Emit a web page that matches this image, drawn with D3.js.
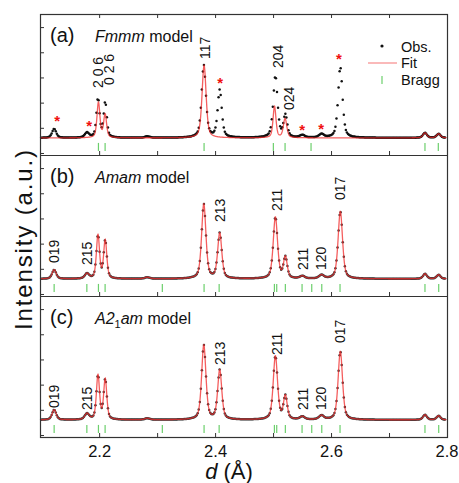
<!DOCTYPE html>
<html><head><meta charset="utf-8">
<script src="https://cdn.jsdelivr.net/npm/d3@7"></script>
<style>
body{margin:0;background:#fff}
svg{display:block}
text{font-family:"Liberation Sans",Arial,Helvetica,sans-serif}
</style>
</head><body>
<svg id="chart" width="459" height="483"></svg>
<script>
// ---------------- DATA ----------------
const xDomain = [2.098, 2.8];
const xTickValues = [2.2, 2.3, 2.4, 2.5, 2.6, 2.7, 2.8];
const xTickLabels = [2.2, 2.4, 2.6, 2.8];
const yTickValues = [-15, 10, 35, 60, 85, 110];

const panelLetters = ["(a)", "(b)", "(c)"];

const obsPeakD  = [2.1224, 2.1790, 2.1980, 2.2105, 2.2830, 2.3805, 2.4080, 2.5040, 2.5212, 2.5505, 2.5835, 2.6160, 2.7620, 2.7855];
const obsPeakW  = [0.0042, 0.0045, 0.0032, 0.0032, 0.0050, 0.0044, 0.0042, 0.0044, 0.0038, 0.0050, 0.0050, 0.0045, 0.0040, 0.0040];
const obsPeakH_a = [9, 5, 39, 35, 1.5, 72, 47, 61, 22, 2.5, 3.5, 70, 5, 4];
const obsPeakH_b = [9, 5, 43, 38, 1.5, 74, 45, 61, 21, 2.5, 3.5, 67, 5, 4];
const obsPeakH_c = [10, 6, 44, 40, 1.5, 74, 49, 63, 23, 3, 4, 68, 5, 4];

// Fmmm fit peaks (panel a)
const fitPeakD_a = [2.1988, 2.2103, 2.3810, 2.5025, 2.5207, 2.7620, 2.7855];
const fitPeakW_a = [0.0030, 0.0030, 0.0042, 0.0030, 0.0035, 0.0040, 0.0040];
const fitPeakH_a = [35, 23, 72, 31, 19, 5, 4];
// Amam / A21am fits (panels b, c) follow observed peaks
const fitPeakH_b = obsPeakH_b;
const fitPeakH_c = obsPeakH_c;

// Bragg reflections
const braggD_a = [2.1988, 2.2103, 2.3810, 2.5005, 2.5207, 2.5655, 2.7620, 2.7850];
const braggD_bc = [2.1224, 2.1788, 2.1988, 2.2103, 2.3090, 2.3810, 2.4070, 2.5023, 2.5063, 2.5212, 2.5500, 2.5667, 2.5840, 2.6155, 2.7620, 2.7857];

// hkl labels: text, position (Å), start height (a.u.)
const hkl_a = ["2 0 6", "0 2 6", "117", "204", "024"];
const hklD_a = [2.1975, 2.2172, 2.3819, 2.5086, 2.5276];
const hklY_a = [49.5, 52.5, 78.3, 69.4, 27.7];
const hkl_bc = ["019", "215", "213", "211", "211", "120", "017"];
const hklD_bc = [2.1224, 2.1790, 2.4085, 2.5065, 2.5515, 2.5830, 2.6155];
const hklY_b = [15.8, 13.8, 56.5, 67.4, 8.8, 8.8, 78.3];
const hklY_c = [11.8, 9.8, 54.5, 64.4, 9.8, 9.8, 76.3];

// unindexed reflections (stars) in panel a
const starD_a = [2.1276, 2.1828, 2.4086, 2.5500, 2.5830, 2.6138];
const starY_a = [19.7, 14.8, 57.5, 10.8, 11.8, 81.3];

const legendLabels = ["Obs.", "Fit", "Bragg"];

// ---------------- LAYOUT ----------------
const W = 459, H = 483;
const left = 40, right = 447;
const panelTop = [14, 155, 296];
const panelH = 141;
const svg = d3.select("#chart");

const x = d3.scaleLinear().domain(xDomain).range([left, right]);

function profile(d, P, Hh, Wd) {
  let s = 0;
  for (let i = 0; i < P.length; i++) {
    const t = (d - P[i]) / Wd[i];
    const L = 1 / (1 + t * t);
    const G = Math.exp(-Math.LN2 * t * t);
    s += Hh[i] * (0.5 * L + 0.5 * G);
  }
  return s;
}

const obsGrid = d3.range(xDomain[0] + 0.002, 2.798, 0.0018);
const fitGrid = d3.range(xDomain[0] + 0.001, 2.799, 0.0004);

const panelsCfg = [
  {obsH: obsPeakH_a, fitD: fitPeakD_a, fitH: fitPeakH_a, fitW: fitPeakW_a, bragg: braggD_a,
   hkl: hkl_a, hklD: hklD_a, hklY: hklY_a, dot: "#111", title: [["Fmmm", true], [" model", false]]},
  {obsH: obsPeakH_b, fitD: obsPeakD, fitH: fitPeakH_b, fitW: obsPeakW, bragg: braggD_bc,
   hkl: hkl_bc, hklD: hklD_bc, hklY: hklY_b, dot: "#3a3a3a", title: [["Amam", true], [" model", false]]},
  {obsH: obsPeakH_c, fitD: obsPeakD, fitH: fitPeakH_c, fitW: obsPeakW, bragg: braggD_bc,
   hkl: hkl_bc, hklD: hklD_bc, hklY: hklY_c, dot: "#3a3a3a", title: null}
];

const frameColor = "#333";
const green = "#6ccf6c";
const red = "#f02828";

panelsCfg.forEach((cfg, pi) => {
  const top = panelTop[pi];
  const y = d3.scaleLinear().domain([-17, 123]).range([top + panelH, top]);
  const g = svg.append("g");

  // observed dots
  g.append("g").selectAll("circle")
    .data(obsGrid)
    .join("circle")
    .attr("cx", d => x(d))
    .attr("cy", d => y(profile(d, obsPeakD, cfg.obsH, obsPeakW)))
    .attr("r", 1.25)
    .attr("fill", cfg.dot);

  // fit line
  const line = d3.line()
    .x(d => x(d))
    .y(d => y(profile(d, cfg.fitD, cfg.fitH, cfg.fitW)));
  g.append("path")
    .datum(fitGrid)
    .attr("d", line)
    .attr("fill", "none")
    .attr("stroke", red)
    .attr("stroke-opacity", 0.75)
    .attr("stroke-width", 1.3);

  // Bragg ticks
  g.append("g").selectAll("line")
    .data(cfg.bragg)
    .join("line")
    .attr("x1", d => x(d)).attr("x2", d => x(d))
    .attr("y1", y(-5)).attr("y2", y(-13))
    .attr("stroke", green)
    .attr("stroke-width", 1.2);

  // hkl labels
  g.append("g").selectAll("text")
    .data(cfg.hkl)
    .join("text")
    .attr("transform", (t, i) => `translate(${x(cfg.hklD[i])},${y(cfg.hklY[i])}) rotate(-90)`)
    .attr("dy", "0.35em")
    .attr("font-size", 14)
    .attr("fill", "#111")
    .text(t => t);

  // panel letter
  svg.append("text")
    .attr("x", 50).attr("y", top + 28)
    .attr("font-size", 20)
    .attr("fill", "#111")
    .text(panelLetters[pi]);

  // model title
  const tt = svg.append("text")
    .attr("x", 95).attr("y", top + 27.5)
    .attr("font-size", 16)
    .attr("fill", "#111");
  if (cfg.title) {
    cfg.title.forEach(([s, it]) => {
      tt.append("tspan").attr("font-style", it ? "italic" : "normal").text(s);
    });
  } else {
    tt.append("tspan").attr("font-style", "italic").text("A2");
    tt.append("tspan").attr("font-size", 11).attr("dy", 4).text("1");
    tt.append("tspan").attr("font-style", "italic").attr("dy", -4).text("am");
    tt.append("tspan").text(" model");
  }

  // left ticks
  const la = d3.axisLeft(y).tickValues(yTickValues).tickSizeInner(-4).tickSizeOuter(0).tickFormat("");
  const lg = svg.append("g").attr("transform", `translate(${left},0)`).call(la);
  lg.select(".domain").remove();
  lg.selectAll("line").attr("stroke", frameColor);

  // bottom ticks of this panel
  const ba = d3.axisBottom(x).tickValues(xTickValues.slice(0, -1)).tickSizeInner(-4).tickSizeOuter(0)
    .tickPadding(8)
    .tickFormat(d => (pi === 2 && xTickLabels.includes(d)) ? d3.format(".1f")(d) : "");
  const bg = svg.append("g").attr("transform", `translate(0,${top + panelH})`).call(ba);
  bg.select(".domain").remove();
  bg.selectAll("line").attr("stroke", frameColor);
  bg.selectAll("text").attr("font-size", 16.5).attr("fill", "#111")
    .attr("font-family", "'Liberation Sans',Arial,sans-serif");

  if (pi === 0) {
    const ta = d3.axisTop(x).tickValues(xTickValues.slice(0, -1)).tickSizeInner(-4).tickSizeOuter(0).tickFormat("");
    const tg = svg.append("g").attr("transform", `translate(0,${top})`).call(ta);
    tg.select(".domain").remove();
    tg.selectAll("line").attr("stroke", frameColor);

    // stars
    svg.append("g").selectAll("text")
      .data(starD_a)
      .join("text")
      .attr("x", d => x(d))
      .attr("y", (d, i) => y(starY_a[i]) + 8)
      .attr("text-anchor", "middle")
      .attr("font-size", 15)
      .attr("font-weight", "bold")
      .attr("fill", "#f01010")
      .text("*");
  }
  if (pi === 2) {
    // last x label at right edge
    svg.append("text")
      .attr("x", x(2.8)).attr("y", top + panelH + 8 + 11.7)
      .attr("text-anchor", "middle")
      .attr("font-size", 16.5).attr("fill", "#111")
      .text(d3.format(".1f")(xTickLabels[3]));
  }
});

// frames
svg.append("rect")
  .attr("x", left + 0.5).attr("y", panelTop[0] + 0.5)
  .attr("width", right - left).attr("height", panelH * 3)
  .attr("fill", "none").attr("stroke", frameColor).attr("stroke-width", 1.2);
[panelTop[1], panelTop[2]].forEach(t => {
  svg.append("line").attr("x1", left).attr("x2", right + 0.5)
    .attr("y1", t + 0.5).attr("y2", t + 0.5)
    .attr("stroke", frameColor).attr("stroke-width", 1.2);
});

// legend
const lgX = 382;
svg.append("circle").attr("cx", lgX).attr("cy", 46).attr("r", 1.6).attr("fill", "#111");
svg.append("line").attr("x1", 368).attr("x2", 397).attr("y1", 63).attr("y2", 63)
  .attr("stroke", red).attr("stroke-opacity", 0.55).attr("stroke-width", 1.2);
svg.append("line").attr("x1", lgX).attr("x2", lgX).attr("y1", 76).attr("y2", 84)
  .attr("stroke", green).attr("stroke-width", 1.2);
legendLabels.forEach((s, i) => {
  svg.append("text").attr("x", 401).attr("y", [52, 68, 85][i])
    .attr("font-size", 14.5).attr("fill", "#111").text(s);
});

// axis titles
const xt = svg.append("text").attr("x", 229).attr("y", 479)
  .attr("text-anchor", "middle").attr("font-size", 22).attr("fill", "#111");
xt.append("tspan").attr("font-style", "italic").text("d");
xt.append("tspan").text(" (Å)");

svg.append("text")
  .attr("transform", "translate(32,240) rotate(-90)")
  .attr("text-anchor", "middle")
  .attr("font-size", 24)
  .attr("fill", "#111")
  .attr("textLength", 180)
  .attr("lengthAdjust", "spacing")
  .text("Intensity (a.u.)");
</script>
</body></html>
